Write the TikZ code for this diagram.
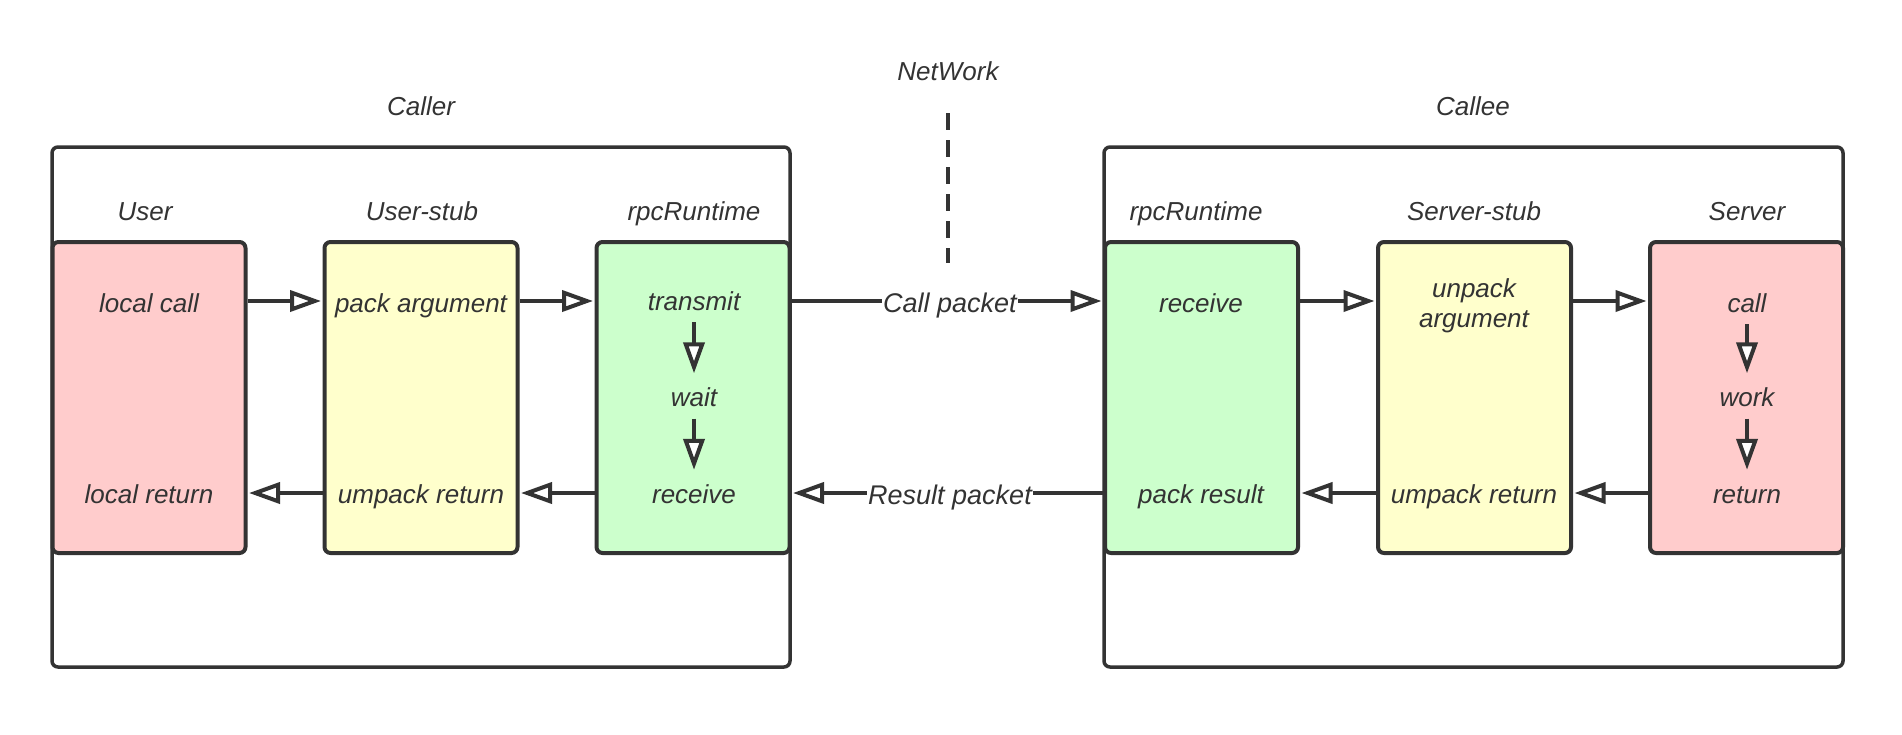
\documentclass[tikz,border=0pt]{standalone}
\usepackage{fontspec}
\setmainfont{Liberation Sans}
\usetikzlibrary{arrows.meta}
\definecolor{ink}{HTML}{333333}
\definecolor{redfill}{HTML}{FFCCCC}
\definecolor{yellowfill}{HTML}{FFFFCC}
\definecolor{greenfill}{HTML}{CCFFCC}
\begin{document}
\begin{tikzpicture}[x=1pt,y=-1pt,
  frame/.style={draw=ink, line width=3.5pt, rounded corners=6pt},
  box/.style={draw=ink, line width=4pt, rounded corners=6pt, inner sep=0pt,
    minimum width=193pt, minimum height=311pt},
  lbl/.style={text=ink, font=\fontsize{26}{30}\selectfont\itshape, inner sep=0pt},
  txt/.style={lbl, text height=19pt, text depth=6pt},
  arr/.style={draw=ink, line width=4pt,
    -{Triangle[fill=white, length=31pt, width=21pt]}, shorten >=1.5pt},
  varr/.style={arr, shorten <=6pt, shorten >=14pt},
  wire/.style={draw=ink, line width=4pt}
]
\useasboundingbox (0,0) rectangle (1902,734);

% frames
\draw[frame] (52,147) rectangle (790,667);
\draw[frame] (1104,147) rectangle (1843,667);
\node[txt] (callerlbl) at (421,109) {Caller};
\node[txt] (calleelbl) at (1473,109) {Callee};
\node[txt] (netlbl) at (948,74) {NetWork};
\coordinate (nettop) at (948,113);
\coordinate (netbot) at (948,263);
\draw[draw=ink, line width=4pt, dash pattern=on 17pt off 10pt] (nettop) -- (netbot);

% row coordinates
\coordinate (r1) at (0,301);
\coordinate (r2) at (0,493);

% caller boxes
\node[box, fill=redfill] (user) at (149,397.5) {};
\node[box, fill=yellowfill] (ustub) at (421,397.5) {};
\node[box, fill=greenfill] (rpcl) at (693,397.5) {};
% callee boxes
\node[box, fill=greenfill] (rpcr) at (1201.5,397.5) {};
\node[box, fill=yellowfill] (sstub) at (1474.5,397.5) {};
\node[box, fill=redfill] (server) at (1746.5,397.5) {};

% box titles
\node[txt] (userlbl) at (145,213.5) {User};
\node[txt] (ustublbl) at (422,213.5) {User-stub};
\node[txt] (rpcllbl) at (694,213.5) {rpcRuntime};
\node[txt] (rpcrlbl) at (1196,213.5) {rpcRuntime};
\node[txt] (sstublbl) at (1474,213.5) {Server-stub};
\node[txt] (serverlbl) at (1747,213.5) {Server};

% texts inside caller
\node[txt] (lcall) at (149,305.5) {local call};
\node[txt] (lret) at (149,496.5) {local return};
\node[txt] (pack) at (421,305.5) {pack argument};
\node[txt] (umpack) at (421,496.5) {umpack return};
\node[txt] (transmit) at (694,303.5) {transmit};
\node[txt] (wait) at (694,400) {wait};
\node[txt] (recvl) at (694,496.5) {receive};

% texts inside callee
\node[txt] (recvr) at (1201,305.5) {receive};
\node[txt] (packres) at (1201,496.5) {pack result};
\node[lbl, align=center] (unpack) at (1474,306) {unpack\\argument};
\node[txt] (umpackr) at (1474,496.5) {umpack return};
\node[txt] (call) at (1747,305.5) {call};
\node[txt] (work) at (1747,400) {work};
\node[txt] (ret) at (1747,496.5) {return};

% horizontal arrows caller
\draw[arr] (user.east |- r1) -- (ustub.west |- r1);
\draw[arr] (ustub.east |- r1) -- (rpcl.west |- r1);
\draw[arr] (rpcl.west |- r2) -- (ustub.east |- r2);
\draw[arr] (ustub.west |- r2) -- (user.east |- r2);
% horizontal arrows callee
\draw[arr] (rpcr.east |- r1) -- (sstub.west |- r1);
\draw[arr] (sstub.east |- r1) -- (server.west |- r1);
\draw[arr] (server.west |- r2) -- (sstub.east |- r2);
\draw[arr] (sstub.west |- r2) -- (rpcr.east |- r2);

% network arrows
\draw[arr] (rpcl.east |- r1) -- (rpcr.west |- r1);
\node[txt, fill=white, inner xsep=1pt, font=\fontsize{27}{29}\selectfont\itshape] (callpkt) at (950,305.5) {Call packet};
\draw[arr] (rpcr.west |- r2) -- (rpcl.east |- r2);
\node[txt, fill=white, inner xsep=1pt, font=\fontsize{27}{29}\selectfont\itshape] (respkt) at (950,497.5) {Result packet};

% vertical arrows
\draw[varr] (transmit) -- (wait);
\draw[varr] (wait) -- (recvl);
\draw[varr] (call) -- (work);
\draw[varr] (work) -- (ret);
\end{tikzpicture}
\end{document}
